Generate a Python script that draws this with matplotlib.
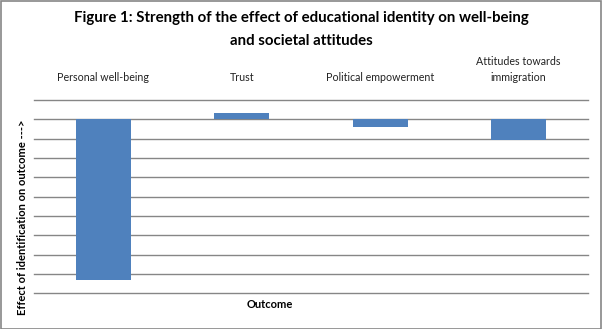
import matplotlib
matplotlib.use("Agg")
import matplotlib.pyplot as plt
from matplotlib.patches import Rectangle

categories = ["Personal well-being", "Trust", "Political empowerment",
              "Attitudes towards\nimmigration"]
effects = [-8.3, 0.35, -0.38, -1.05]

W, H = 602, 329
fig = plt.figure(figsize=(W / 100, H / 100), dpi=100)
fig.patch.set_facecolor("white")

# plot area in pixel coordinates
left, right, top, bottom = 34, 588, 100, 293.3
ax = fig.add_axes([left / W, 1 - bottom / H, (right - left) / W, (bottom - top) / H])

x = range(len(categories))
ax.bar(x, effects, width=0.40, color="#4f81bd", zorder=3)
ax.set_xlim(-0.5, len(categories) - 0.5)
ax.set_ylim(-9, 1)
ax.set_yticks(range(-9, 2))
ax.yaxis.grid(True, color="#868686", linewidth=1.0, zorder=0)
for line in ax.get_ygridlines():
    line.set_clip_on(False)
ax.tick_params(axis="y", left=False, labelleft=False)

ax.xaxis.tick_top()
ax.set_xticks(list(x))
ax.set_xticklabels(categories, fontsize=7.7, family="Lato", color="#222222",
                   linespacing=1.5)
ax.tick_params(axis="x", top=False, bottom=False, pad=9)

for spine in ax.spines.values():
    spine.set_visible(False)

fig.text(0.5, 1 - 18 / H, "Figure 1: Strength of the effect of educational identity on well-being",
         ha="center", va="center", fontsize=10.8, fontweight="bold", family="Lato")
fig.text(0.5, 1 - 41 / H, "and societal attitudes",
         ha="center", va="center", fontsize=10.8, fontweight="bold", family="Lato")

fig.text(270 / W, 1 - 304 / H, "Outcome", ha="center", va="center",
         fontsize=8, fontweight="bold", family="Lato")
fig.text(23 / W, 1 - 217 / H, "Effect of identification on outcome --->",
         ha="center", va="center", rotation=90, fontsize=8,
         fontweight="bold", family="Lato")

# chart border
fig.patches.append(Rectangle((0.5 / W, 0.5 / H), (W - 1.5) / W, (H - 1.5) / H,
                             transform=fig.transFigure, fill=False,
                             edgecolor="#868686", linewidth=1.2))

fig.savefig("out.png", dpi=100)
